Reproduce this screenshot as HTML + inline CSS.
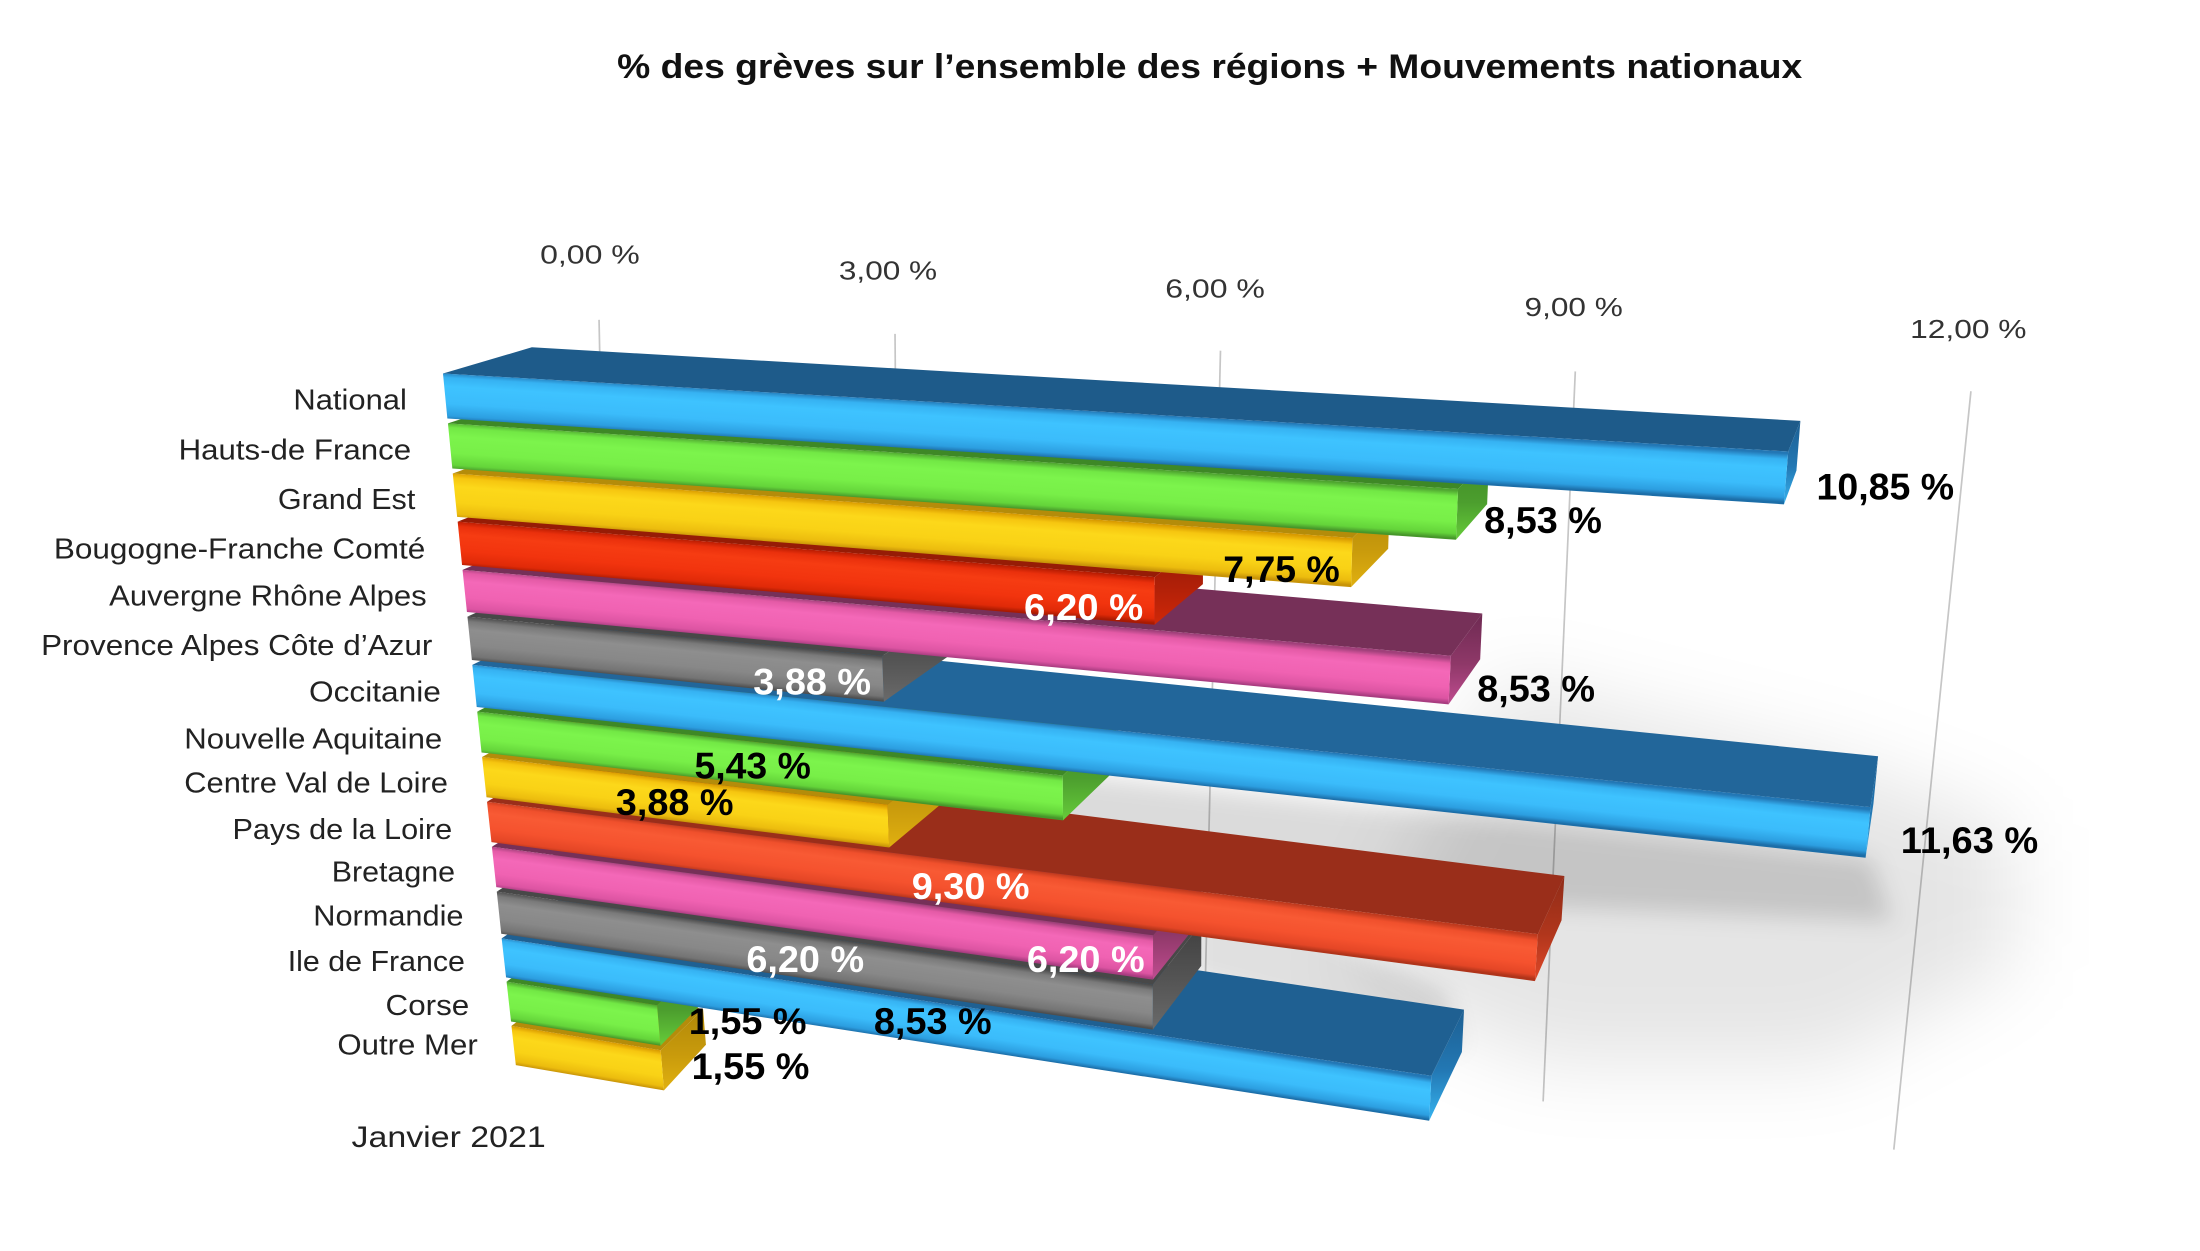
<!DOCTYPE html>
<html>
<head>
<meta charset="utf-8">
<style>
html,body{margin:0;padding:0;background:#ffffff;}
svg{display:block;}
text{font-family:"Liberation Sans",Arial,sans-serif;}
</style>
</head>
<body>
<svg width="2200" height="1251" viewBox="0 0 1552 882.5" preserveAspectRatio="none" xmlns="http://www.w3.org/2000/svg">
<defs>
<filter id="shBig" x="-50%" y="-50%" width="200%" height="200%"><feGaussianBlur stdDeviation="28"/></filter>
<filter id="shSmall" x="-20%" y="-50%" width="140%" height="200%"><feGaussianBlur stdDeviation="8"/></filter>

<linearGradient id="g0" gradientUnits="userSpaceOnUse" x1="787" y1="291" x2="784.9" y2="325.4"><stop offset="0" stop-color="#2377b5"/><stop offset="0.12" stop-color="#36b2f2"/><stop offset="0.3" stop-color="#3ec3ff"/><stop offset="0.65" stop-color="#3bbcfb"/><stop offset="0.9" stop-color="#2c9ee0"/><stop offset="1" stop-color="#1c6ea8"/></linearGradient>
<linearGradient id="g1" gradientUnits="userSpaceOnUse" x1="672" y1="321.8" x2="669.7" y2="355.4"><stop offset="0" stop-color="#4fa530"/><stop offset="0.12" stop-color="#72e845"/><stop offset="0.3" stop-color="#7cf44c"/><stop offset="0.65" stop-color="#78ef48"/><stop offset="0.9" stop-color="#64d43a"/><stop offset="1" stop-color="#46962a"/></linearGradient>
<linearGradient id="g2" gradientUnits="userSpaceOnUse" x1="637" y1="356.8" x2="634.6" y2="389.1"><stop offset="0" stop-color="#d89a00"/><stop offset="0.12" stop-color="#f6c610"/><stop offset="0.3" stop-color="#fcd81a"/><stop offset="0.65" stop-color="#f9d216"/><stop offset="0.9" stop-color="#ecbc0e"/><stop offset="1" stop-color="#c89408"/></linearGradient>
<linearGradient id="g3" gradientUnits="userSpaceOnUse" x1="568" y1="387.5" x2="565.4" y2="419.3"><stop offset="0" stop-color="#b81c02"/><stop offset="0.12" stop-color="#ea300c"/><stop offset="0.3" stop-color="#f63c12"/><stop offset="0.65" stop-color="#f2340e"/><stop offset="0.9" stop-color="#e02a08"/><stop offset="1" stop-color="#a81a02"/></linearGradient>
<linearGradient id="g4" gradientUnits="userSpaceOnUse" x1="675" y1="432.3" x2="672.1" y2="464.0"><stop offset="0" stop-color="#a0407a"/><stop offset="0.12" stop-color="#e45aa6"/><stop offset="0.3" stop-color="#f468b8"/><stop offset="0.65" stop-color="#f062b2"/><stop offset="0.9" stop-color="#dc54a2"/><stop offset="1" stop-color="#a83c80"/></linearGradient>
<linearGradient id="g5" gradientUnits="userSpaceOnUse" x1="476" y1="448.9" x2="473" y2="479.8"><stop offset="0" stop-color="#4c4c4c"/><stop offset="0.12" stop-color="#7a7a7a"/><stop offset="0.3" stop-color="#8e8e8e"/><stop offset="0.65" stop-color="#888888"/><stop offset="0.9" stop-color="#747474"/><stop offset="1" stop-color="#4e4e4e"/></linearGradient>
<linearGradient id="g6" gradientUnits="userSpaceOnUse" x1="826" y1="519.2" x2="822.6" y2="551.5"><stop offset="0" stop-color="#2377b5"/><stop offset="0.12" stop-color="#36b2f2"/><stop offset="0.3" stop-color="#3ec3ff"/><stop offset="0.65" stop-color="#3bbcfb"/><stop offset="0.9" stop-color="#2c9ee0"/><stop offset="1" stop-color="#1c6ea8"/></linearGradient>
<linearGradient id="g7" gradientUnits="userSpaceOnUse" x1="543" y1="524.5" x2="539.7" y2="554.1"><stop offset="0" stop-color="#4fa530"/><stop offset="0.12" stop-color="#72e845"/><stop offset="0.3" stop-color="#7cf44c"/><stop offset="0.65" stop-color="#78ef48"/><stop offset="0.9" stop-color="#64d43a"/><stop offset="1" stop-color="#46962a"/></linearGradient>
<linearGradient id="g8" gradientUnits="userSpaceOnUse" x1="483" y1="550.8" x2="479.5" y2="579.5"><stop offset="0" stop-color="#d89a00"/><stop offset="0.12" stop-color="#f6c610"/><stop offset="0.3" stop-color="#fcd81a"/><stop offset="0.65" stop-color="#f9d216"/><stop offset="0.9" stop-color="#ecbc0e"/><stop offset="1" stop-color="#c89408"/></linearGradient>
<linearGradient id="g9" gradientUnits="userSpaceOnUse" x1="714" y1="612.3" x2="710.1" y2="642.5"><stop offset="0" stop-color="#c03a1e"/><stop offset="0.12" stop-color="#f0502c"/><stop offset="0.3" stop-color="#f85a34"/><stop offset="0.65" stop-color="#f5522e"/><stop offset="0.9" stop-color="#e44626"/><stop offset="1" stop-color="#b0341a"/></linearGradient>
<linearGradient id="g10" gradientUnits="userSpaceOnUse" x1="580" y1="628.5" x2="576" y2="657.6"><stop offset="0" stop-color="#a0407a"/><stop offset="0.12" stop-color="#e45aa6"/><stop offset="0.3" stop-color="#f468b8"/><stop offset="0.65" stop-color="#f062b2"/><stop offset="0.9" stop-color="#dc54a2"/><stop offset="1" stop-color="#a83c80"/></linearGradient>
<linearGradient id="g11" gradientUnits="userSpaceOnUse" x1="582" y1="661.8" x2="577.7" y2="691.7"><stop offset="0" stop-color="#4c4c4c"/><stop offset="0.12" stop-color="#7a7a7a"/><stop offset="0.3" stop-color="#8e8e8e"/><stop offset="0.65" stop-color="#888888"/><stop offset="0.9" stop-color="#747474"/><stop offset="1" stop-color="#4e4e4e"/></linearGradient>
<linearGradient id="g12" gradientUnits="userSpaceOnUse" x1="682" y1="710.5" x2="677.6" y2="739.3"><stop offset="0" stop-color="#2377b5"/><stop offset="0.12" stop-color="#36b2f2"/><stop offset="0.3" stop-color="#3ec3ff"/><stop offset="0.65" stop-color="#3bbcfb"/><stop offset="0.9" stop-color="#2c9ee0"/><stop offset="1" stop-color="#1c6ea8"/></linearGradient>
<linearGradient id="g13" gradientUnits="userSpaceOnUse" x1="411" y1="700.9" x2="406.7" y2="728.1"><stop offset="0" stop-color="#4fa530"/><stop offset="0.12" stop-color="#72e845"/><stop offset="0.3" stop-color="#7cf44c"/><stop offset="0.65" stop-color="#78ef48"/><stop offset="0.9" stop-color="#64d43a"/><stop offset="1" stop-color="#46962a"/></linearGradient>
<linearGradient id="g14" gradientUnits="userSpaceOnUse" x1="414" y1="732.4" x2="409.5" y2="759.2"><stop offset="0" stop-color="#d89a00"/><stop offset="0.12" stop-color="#f6c610"/><stop offset="0.3" stop-color="#fcd81a"/><stop offset="0.65" stop-color="#f9d216"/><stop offset="0.9" stop-color="#ecbc0e"/><stop offset="1" stop-color="#c89408"/></linearGradient>

<linearGradient id="cB" x1="0" y1="0" x2="0" y2="1"><stop offset="0" stop-color="#1d5f92"/><stop offset="0.55" stop-color="#2378b4"/><stop offset="1" stop-color="#36b4f0"/></linearGradient>
<linearGradient id="cG" x1="0" y1="0" x2="0" y2="1"><stop offset="0" stop-color="#3f8a26"/><stop offset="0.55" stop-color="#4c9e2e"/><stop offset="1" stop-color="#66cc3a"/></linearGradient>
<linearGradient id="cY" x1="0" y1="0" x2="0" y2="1"><stop offset="0" stop-color="#b08808"/><stop offset="0.55" stop-color="#c89a0c"/><stop offset="1" stop-color="#e0b010"/></linearGradient>
<linearGradient id="cR1" x1="0" y1="0" x2="0" y2="1"><stop offset="0" stop-color="#8e1804"/><stop offset="0.55" stop-color="#b02008"/><stop offset="1" stop-color="#d02808"/></linearGradient>
<linearGradient id="cR2" x1="0" y1="0" x2="0" y2="1"><stop offset="0" stop-color="#902c18"/><stop offset="0.55" stop-color="#b0361c"/><stop offset="1" stop-color="#e04828"/></linearGradient>
<linearGradient id="cP" x1="0" y1="0" x2="0" y2="1"><stop offset="0" stop-color="#6e2a52"/><stop offset="0.55" stop-color="#8e3868"/><stop offset="1" stop-color="#c04c90"/></linearGradient>
<linearGradient id="cK" x1="0" y1="0" x2="0" y2="1"><stop offset="0" stop-color="#404040"/><stop offset="0.55" stop-color="#555555"/><stop offset="1" stop-color="#6a6a6a"/></linearGradient>
</defs>

<rect x="0" y="0" width="1552" height="882.5" fill="#ffffff"/>

<!-- gridlines (back wall) -->
<g stroke="#c6c6c6" stroke-width="1.2" fill="none">
<line x1="422.6" y1="225.6" x2="432.5" y2="712.5"/>
<line x1="631.4" y1="235.5" x2="635.3" y2="727"/>
<line x1="861" y1="247.4" x2="849" y2="747"/>
<line x1="1111.3" y1="262" x2="1088.6" y2="777"/>
<line x1="1390.4" y1="276" x2="1336" y2="811"/>
</g>

<!-- shadows on wall -->
<g filter="url(#shBig)">
<polygon points="1060,480 1300,540 1420,585 1420,680 1290,750 1090,750 950,690" fill="#000" opacity="0.10"/>
</g>
<g filter="url(#shSmall)">
<polygon points="700,540 1320,606 1335,650 1100,640 700,585" fill="#000" opacity="0.14"/>
<polygon points="840,615 1020,700 1030,740 840,690" fill="#000" opacity="0.12"/>
</g>

<!-- Row 14 Outre Mer (yellow) -->
<polygon points="360.8,723.7 466.1,740.9 496,712 406.0,689.9" fill="#b48c0a"/>
<polygon points="466.1,740.9 468.4,769.2 498,737 496,712" fill="url(#cY)"/>
<polygon points="360.8,723.7 466.1,740.9 468.4,769.2 363.9,751.4" fill="url(#g14)"/>
<!-- Row 13 Corse (green) -->
<polygon points="357.35,692.5 463.5,709.1 494,682 402.7,660.1" fill="#3e8826"/>
<polygon points="463.5,709.1 465.9,737.7 496,707 494,682" fill="url(#cG)"/>
<polygon points="357.35,692.5 463.5,709.1 465.9,737.7 360.5,720.6" fill="url(#g13)"/>
<!-- Row 12 Ile de France (blue) -->
<polygon points="353.9,662 1009.8,758.9 1032.8,712.2 414.3,620.8" fill="#1f6092"/>
<polygon points="1009.8,758.9 1008.2,790.6 1031.3,742.1 1032.8,712.2" fill="url(#cB)"/>
<polygon points="353.9,662 1009.8,758.9 1008.2,790.6 357,689.5" fill="url(#g12)"/>
<!-- Row 11 Normandie (gray) -->
<polygon points="350.45,629 813.3,694.5 847.5,651.4 411,589.7" fill="#484848"/>
<polygon points="813.3,694.5 813.2,726.3 847.4,681.4 847.5,651.4" fill="url(#cK)"/>
<polygon points="350.45,629 813.3,694.5 813.2,726.3 353.6,658.7" fill="url(#g11)"/>
<!-- Row 10 Bretagne (pink) -->
<polygon points="347,597.3 813.5,659.8 847.7,618.7 407.8,559.8" fill="#763058"/>
<polygon points="813.5,659.8 813.3,691.1 847.5,648.2 847.7,618.7" fill="url(#cP)"/>
<polygon points="347,597.3 813.5,659.8 813.3,691.1 350.1,625.8" fill="url(#g10)"/>
<!-- Row 9 Pays de la Loire (red) -->
<polygon points="343.55,565.6 1084.9,659 1103.6,618 404.5,529.9" fill="#9a2e1a"/>
<polygon points="1084.9,659 1082.8,692.1 1101.6,649.2 1103.6,618" fill="url(#cR2)"/>
<polygon points="343.55,565.6 1084.9,659 1082.8,692.1 346.7,594.1" fill="url(#g9)"/>
<!-- Row 8 Centre Val de Loire (yellow) -->
<polygon points="340.1,534 626.1,567.6 670.9,531.8 401.3,500.1" fill="#b48c0a"/>
<polygon points="626.1,567.6 627.3,597.9 672.1,560.3 670.9,531.8" fill="url(#cY)"/>
<polygon points="340.1,534 626.1,567.6 627.3,597.9 343.2,562.4" fill="url(#g8)"/>
<!-- Row 7 Nouvelle Aquitaine (green) -->
<polygon points="336.65,502 749.7,547.1 787.5,512.4 398,469.9" fill="#3e8826"/>
<polygon points="749.7,547.1 749.9,578.7 787.7,542.2 787.5,512.4" fill="url(#cG)"/>
<polygon points="336.65,502 749.7,547.1 749.9,578.7 339.7,530.8" fill="url(#g7)"/>
<!-- Row 6 Occitanie (blue) -->
<polygon points="333.2,469 1319.6,569.4 1324.9,533.5 394.7,438.8" fill="#22669a"/>
<polygon points="1319.6,569.4 1316.1,605.1 1321.6,567.1 1324.9,533.5" fill="url(#cB)"/>
<polygon points="333.2,469 1319.6,569.4 1316.1,605.1 336.3,498.7" fill="url(#g6)"/>
<!-- Row 5 Provence (gray) -->
<polygon points="329.75,435 622.3,462.8 667.4,432.9 391.5,406.7" fill="#484848"/>
<polygon points="622.3,462.8 623.5,495 668.5,463.3 667.4,432.9" fill="url(#cK)"/>
<polygon points="329.75,435 622.3,462.8 623.5,495 332.9,465.6" fill="url(#g5)"/>
<!-- Row 4 Auvergne (pink) -->
<polygon points="326.3,402 1023.5,462.6 1045.7,432.8 388.2,375.6" fill="#763058"/>
<polygon points="1023.5,462.6 1021.9,496.9 1044.2,465.1 1045.7,432.8" fill="url(#cP)"/>
<polygon points="326.3,402 1023.5,462.6 1021.9,496.9 329.4,431.7" fill="url(#g4)"/>
<!-- Row 3 Bourgogne (red) -->
<polygon points="322.85,368 814.6,407.1 848.7,380.4 385,343.5" fill="#961c06"/>
<polygon points="814.6,407.1 814.5,440.7 848.6,412.1 848.7,380.4" fill="url(#cR1)"/>
<polygon points="322.85,368 814.6,407.1 814.5,440.7 325.96,398.6" fill="url(#g3)"/>
<!-- Row 2 Grand Est (yellow) -->
<polygon points="319.4,334 954.1,379.5 980.3,354.4 381.7,311.5" fill="#b48c0a"/>
<polygon points="954.1,379.5 953.1,414.2 979.3,387.1 980.3,354.4" fill="url(#cY)"/>
<polygon points="319.4,334 954.1,379.5 953.1,414.2 322.5,364.6" fill="url(#g2)"/>
<!-- Row 1 Hauts-de France (green) -->
<polygon points="316,298.7 1028.6,345.0 1050.5,321.9 378.5,278.2" fill="#3e8826"/>
<polygon points="1028.6,345.0 1027.1,380.8 1049.1,355.6 1050.5,321.9" fill="url(#cG)"/>
<polygon points="316,298.7 1028.6,345.0 1027.1,380.8 319.1,330.5" fill="url(#g1)"/>
<!-- Row 0 National (blue) -->
<polygon points="312.5,263.5 1261.5,318.5 1270.1,296.9 375.2,245.0" fill="#1e5b8a"/>
<polygon points="1261.5,318.5 1258.5,355.8 1267.3,332.0 1270.1,296.9" fill="url(#cB)"/>
<polygon points="312.5,263.5 1261.5,318.5 1258.5,355.8 315.6,295.2" fill="url(#g0)"/>

<!-- value labels -->
<g font-weight="bold" font-size="26">
<text x="1281.5" y="352.3" textLength="97" lengthAdjust="spacingAndGlyphs" fill="#000">10,85 %</text>
<text x="1047" y="376.1" textLength="83.1" lengthAdjust="spacingAndGlyphs" fill="#000">8,53 %</text>
<text x="863" y="410.7" textLength="82.1" lengthAdjust="spacingAndGlyphs" fill="#000">7,75 %</text>
<text x="722.4" y="437.4" textLength="84.1" lengthAdjust="spacingAndGlyphs" fill="#fff">6,20 %</text>
<text x="1042.1" y="494.8" textLength="83.1" lengthAdjust="spacingAndGlyphs" fill="#000">8,53 %</text>
<text x="531.4" y="489.9" textLength="83.1" lengthAdjust="spacingAndGlyphs" fill="#fff">3,88 %</text>
<text x="1340.9" y="601.7" textLength="97" lengthAdjust="spacingAndGlyphs" fill="#000">11,63 %</text>
<text x="489.9" y="549.2" textLength="82.1" lengthAdjust="spacingAndGlyphs" fill="#000">5,43 %</text>
<text x="434.4" y="575" textLength="83.1" lengthAdjust="spacingAndGlyphs" fill="#000">3,88 %</text>
<text x="643.2" y="634.3" textLength="83.1" lengthAdjust="spacingAndGlyphs" fill="#fff">9,30 %</text>
<text x="724.4" y="685.8" textLength="83.1" lengthAdjust="spacingAndGlyphs" fill="#fff">6,20 %</text>
<text x="526.5" y="685.8" textLength="83.1" lengthAdjust="spacingAndGlyphs" fill="#fff">6,20 %</text>
<text x="616.5" y="729.3" textLength="83.1" lengthAdjust="spacingAndGlyphs" fill="#000">8,53 %</text>
<text x="485.9" y="729.3" textLength="83.1" lengthAdjust="spacingAndGlyphs" fill="#000">1,55 %</text>
<text x="487.9" y="761" textLength="83.1" lengthAdjust="spacingAndGlyphs" fill="#000">1,55 %</text>
</g>

<!-- category labels -->
<g font-size="20" fill="#222">
<text x="207" y="289" textLength="80" lengthAdjust="spacingAndGlyphs">National</text>
<text x="126" y="324" textLength="164" lengthAdjust="spacingAndGlyphs">Hauts-de France</text>
<text x="196" y="359" textLength="97" lengthAdjust="spacingAndGlyphs">Grand Est</text>
<text x="38" y="394" textLength="262" lengthAdjust="spacingAndGlyphs">Bougogne-Franche Comté</text>
<text x="77" y="427" textLength="224" lengthAdjust="spacingAndGlyphs">Auvergne Rhône Alpes</text>
<text x="29" y="462" textLength="276" lengthAdjust="spacingAndGlyphs">Provence Alpes Côte d’Azur</text>
<text x="218" y="495" textLength="93" lengthAdjust="spacingAndGlyphs">Occitanie</text>
<text x="130" y="528" textLength="182" lengthAdjust="spacingAndGlyphs">Nouvelle Aquitaine</text>
<text x="130" y="559" textLength="186" lengthAdjust="spacingAndGlyphs">Centre Val de Loire</text>
<text x="164" y="592" textLength="155" lengthAdjust="spacingAndGlyphs">Pays de la Loire</text>
<text x="234" y="622" textLength="87" lengthAdjust="spacingAndGlyphs">Bretagne</text>
<text x="221" y="653" textLength="106" lengthAdjust="spacingAndGlyphs">Normandie</text>
<text x="203" y="685" textLength="125" lengthAdjust="spacingAndGlyphs">Ile de France</text>
<text x="272" y="716" textLength="59" lengthAdjust="spacingAndGlyphs">Corse</text>
<text x="238" y="744" textLength="99" lengthAdjust="spacingAndGlyphs">Outre Mer</text>
<text x="248" y="809" textLength="137" lengthAdjust="spacingAndGlyphs" font-size="21">Janvier 2021</text>
</g>

<!-- axis tick labels -->
<g font-size="18" fill="#333">
<text x="381" y="186" textLength="70.3" lengthAdjust="spacingAndGlyphs">0,00 %</text>
<text x="591.8" y="197" textLength="69.3" lengthAdjust="spacingAndGlyphs">3,00 %</text>
<text x="822" y="210" textLength="70.3" lengthAdjust="spacingAndGlyphs">6,00 %</text>
<text x="1075.5" y="223" textLength="69.3" lengthAdjust="spacingAndGlyphs">9,00 %</text>
<text x="1347.5" y="238.5" textLength="82.1" lengthAdjust="spacingAndGlyphs">12,00 %</text>
</g>

<!-- title -->
<text x="435.4" y="55" font-size="24" font-weight="bold" fill="#111" textLength="836" lengthAdjust="spacingAndGlyphs">% des grèves sur l’ensemble des régions + Mouvements nationaux</text>
</svg>
</body>
</html>
